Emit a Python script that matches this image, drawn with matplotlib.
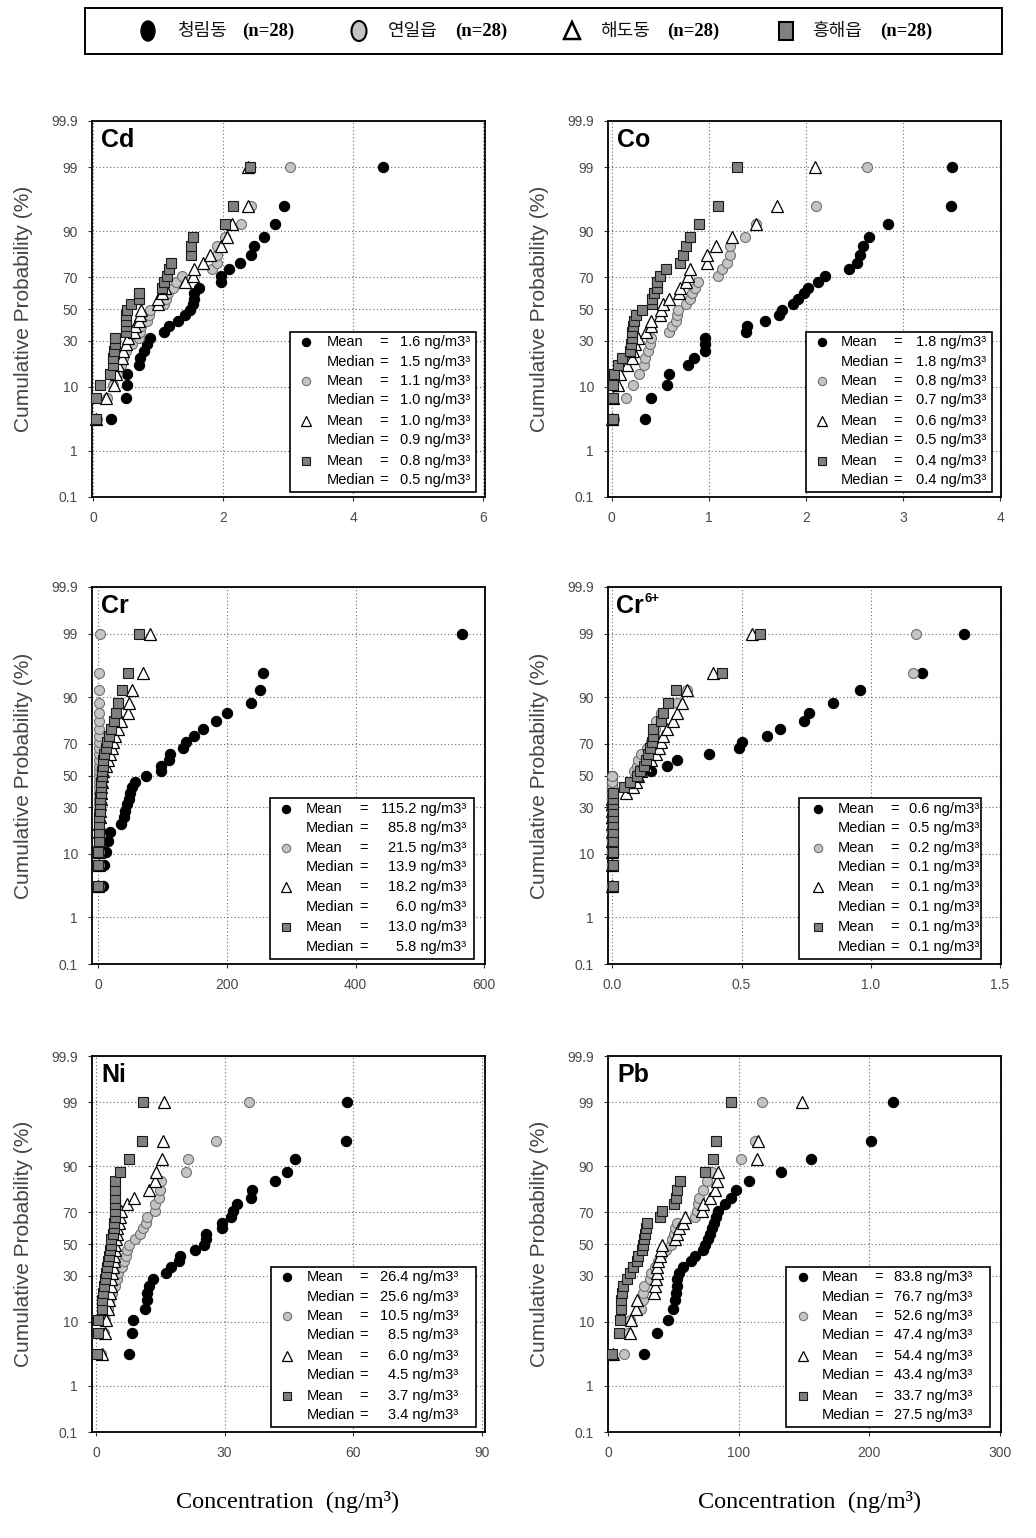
import math
import numpy as np
import matplotlib
matplotlib.use("Agg")
import matplotlib.pyplot as plt
from matplotlib.patches import Rectangle, Ellipse, Polygon

plt.rcParams['font.family'] = ['Liberation Sans', 'DejaVu Sans']

# ---------------- data ----------------
sites = ['청림동', '연일읍', '해도동', '흥해읍']
site_n = ['(n=28)', '(n=28)', '(n=28)', '(n=28)']

# cumulative probability (%) of ranked samples (same for every series, n=28)
cum_prob = [3.5, 7.1, 10.6, 14.1, 17.7, 21.2, 24.7, 28.3, 31.8, 35.3, 38.9, 42.4, 45.9, 49.5,
            53.0, 56.5, 60.1, 63.6, 67.1, 70.7, 74.2, 77.7, 81.3, 84.8, 88.3, 91.9, 95.4, 99.0]

cd_cheongrim = [0.27, 0.50, 0.52, 0.52, 0.71, 0.72, 0.78, 0.83, 0.87, 1.08, 1.17, 1.30, 1.41, 1.48,
                1.54, 1.55, 1.55, 1.63, 1.96, 1.97, 2.09, 2.25, 2.43, 2.47, 2.62, 2.80, 2.94, 4.46]
cd_yeonil = [0.05, 0.21, 0.30, 0.36, 0.42, 0.46, 0.50, 0.60, 0.71, 0.72, 0.74, 0.83, 0.85, 0.87,
             1.08, 1.12, 1.15, 1.22, 1.27, 1.37, 1.83, 1.90, 1.91, 1.91, 2.03, 2.27, 2.42, 3.03]
cd_haedo = [0.04, 0.20, 0.32, 0.35, 0.38, 0.44, 0.46, 0.50, 0.54, 0.62, 0.64, 0.70, 0.72, 0.73,
            1.00, 1.00, 1.05, 1.10, 1.41, 1.53, 1.55, 1.69, 1.79, 1.97, 2.05, 2.14, 2.38, 2.38]
cd_heunghae = [0.04, 0.04, 0.11, 0.25, 0.30, 0.31, 0.32, 0.33, 0.33, 0.50, 0.50, 0.51, 0.51, 0.52,
               0.58, 0.70, 0.70, 1.05, 1.09, 1.14, 1.17, 1.20, 1.51, 1.51, 1.53, 2.02, 2.15, 2.41]

co_cheongrim = [0.34, 0.41, 0.57, 0.59, 0.79, 0.85, 0.96, 0.96, 0.96, 1.38, 1.39, 1.58, 1.72, 1.75,
                1.87, 1.92, 1.98, 2.02, 2.13, 2.20, 2.44, 2.53, 2.56, 2.59, 2.65, 2.85, 3.50, 3.51]
co_yeonil = [0.02, 0.15, 0.22, 0.28, 0.33, 0.34, 0.37, 0.39, 0.41, 0.59, 0.62, 0.66, 0.67, 0.68,
             0.77, 0.81, 0.83, 0.86, 0.89, 1.10, 1.14, 1.19, 1.22, 1.22, 1.37, 1.49, 2.10, 2.63]
co_haedo = [0.00, 0.01, 0.06, 0.09, 0.16, 0.21, 0.22, 0.24, 0.27, 0.35, 0.40, 0.41, 0.50, 0.51,
            0.53, 0.59, 0.69, 0.70, 0.77, 0.79, 0.81, 0.98, 0.98, 1.07, 1.24, 1.49, 1.70, 2.09]
co_heunghae = [0.01, 0.01, 0.01, 0.02, 0.07, 0.11, 0.19, 0.20, 0.21, 0.21, 0.22, 0.23, 0.25, 0.31,
               0.42, 0.42, 0.44, 0.47, 0.47, 0.50, 0.56, 0.70, 0.73, 0.77, 0.81, 0.90, 1.09, 1.29]

cr_cheongrim = [7.8, 9.3, 11.4, 15.5, 18.0, 36.0, 40.0, 42.0, 44.0, 47.0, 50.0, 53.0, 57.0, 73.6,
                97.0, 98.0, 110.0, 112.0, 132.0, 137.0, 149.0, 163.0, 183.0, 200.0, 237.0, 251.0, 256.0, 566.0]
cr_yeonil = [0.5, 0.6, 0.7, 0.8, 0.9, 1.0, 1.0, 1.1, 1.1, 1.2, 1.2, 1.3, 1.3, 1.4,
             1.4, 1.5, 1.5, 1.5, 1.6, 1.6, 1.6, 1.7, 1.7, 1.7, 1.8, 1.8, 1.8, 2.0]
cr_haedo = [0.2, 0.4, 0.6, 0.8, 1.0, 1.5, 2.0, 2.5, 3.0, 3.5, 4.0, 4.5, 5.0, 5.5,
            8.0, 12.0, 15.5, 18.0, 20.7, 23.3, 26.0, 30.0, 36.0, 46.6, 48.0, 52.0, 70.0, 80.0]
cr_heunghae = [0.0, 0.0, 0.0, 0.5, 1.0, 1.0, 1.5, 2.6, 2.8, 3.1, 3.6, 4.2, 4.7, 5.2,
               5.7, 6.7, 7.8, 9.3, 11.4, 14.0, 16.6, 19.0, 24.4, 27.5, 31.0, 37.3, 45.6, 63.7]

cr6_cheongrim = [0.0, 0.0, 0.0, 0.0, 0.0, 0.0, 0.0, 0.0, 0.0, 0.0, 0.0, 0.0, 0.0, 0.0,
                 0.15, 0.21, 0.25, 0.375, 0.49, 0.50, 0.60, 0.65, 0.74, 0.76, 0.855, 0.96, 1.20, 1.36]
cr6_yeonil = [0.0, 0.0, 0.0, 0.0, 0.0, 0.0, 0.0, 0.0, 0.0, 0.0, 0.0, 0.0, 0.0, 0.0,
              0.085, 0.095, 0.10, 0.113, 0.135, 0.15, 0.16, 0.165, 0.17, 0.19, 0.25, 0.29, 1.165, 1.175]
cr6_haedo = [0.0, 0.0, 0.0, 0.0, 0.0, 0.0, 0.0, 0.0, 0.0, 0.0, 0.053, 0.08, 0.09, 0.10,
             0.11, 0.13, 0.15, 0.17, 0.18, 0.19, 0.195, 0.21, 0.236, 0.25, 0.27, 0.29, 0.39, 0.54]
cr6_heunghae = [0.003, 0.003, 0.003, 0.003, 0.003, 0.003, 0.003, 0.003, 0.003, 0.003, 0.003, 0.045, 0.07, 0.094,
                0.107, 0.124, 0.13, 0.137, 0.146, 0.152, 0.156, 0.159, 0.187, 0.195, 0.214, 0.245, 0.423, 0.571]

ni_cheongrim = [7.8, 8.5, 8.7, 11.4, 11.8, 12.0, 12.4, 13.2, 16.3, 17.4, 19.4, 19.6, 23.1, 25.3,
                25.6, 25.7, 29.3, 29.5, 31.6, 32.0, 32.8, 36.1, 36.3, 41.8, 44.6, 46.4, 58.3, 58.5]
ni_yeonil = [1.2, 1.8, 2.0, 2.9, 3.1, 3.8, 4.4, 5.0, 5.2, 6.0, 6.6, 6.9, 7.3, 7.8,
             9.1, 10.3, 11.0, 11.7, 12.0, 13.8, 13.8, 14.8, 14.9, 15.1, 21.0, 21.5, 28.1, 35.7]
ni_haedo = [1.5, 2.1, 2.3, 2.9, 3.0, 3.2, 3.4, 3.6, 3.8, 4.0, 4.2, 4.3, 4.4, 4.5,
            4.6, 4.8, 5.0, 5.3, 5.5, 5.8, 7.3, 8.9, 12.4, 13.8, 14.0, 15.3, 15.7, 15.9]
ni_heunghae = [0.2, 0.4, 0.5, 1.3, 1.5, 1.7, 1.9, 2.1, 2.3, 2.5, 2.9, 3.1, 3.3, 3.4,
               3.5, 4.0, 4.2, 4.2, 4.4, 4.4, 4.5, 4.5, 4.5, 4.5, 5.6, 7.8, 10.7, 10.9]

pb_cheongrim = [27.6, 37.5, 45.4, 49.3, 51.0, 51.6, 52.3, 52.8, 54.4, 57.4, 63.3, 66.4, 72.2, 74.0,
                76.6, 77.9, 79.1, 80.9, 82.2, 83.7, 89.4, 94.0, 97.5, 108.0, 132.0, 155.0, 201.0, 218.0]
pb_yeonil = [12.3, 15.0, 17.0, 25.0, 26.3, 26.8, 27.0, 31.9, 33.0, 36.0, 38.0, 40.0, 44.0, 47.7,
             48.5, 50.0, 51.0, 52.3, 66.6, 68.0, 69.0, 69.7, 72.8, 75.3, 79.1, 102.0, 112.0, 118.0]
pb_haedo = [3.8, 16.6, 17.1, 21.2, 22.0, 35.0, 35.7, 36.5, 37.0, 37.5, 38.3, 39.6, 40.0, 40.8,
            51.0, 52.3, 54.4, 57.0, 58.7, 72.0, 72.8, 77.9, 81.7, 83.0, 84.2, 114.0, 115.0, 148.0]
pb_heunghae = [2.6, 8.2, 8.9, 9.4, 9.7, 10.7, 11.5, 14.6, 16.6, 18.6, 21.7, 22.5, 26.0, 26.8,
               27.6, 28.1, 28.8, 29.9, 39.6, 40.8, 50.5, 51.6, 52.3, 54.9, 74.0, 79.9, 82.5, 94.0]

cd_mean, cd_median = [1.6, 1.1, 1.0, 0.8], [1.5, 1.0, 0.9, 0.5]
co_mean, co_median = [1.8, 0.8, 0.6, 0.4], [1.8, 0.7, 0.5, 0.4]
cr_mean, cr_median = [115.2, 21.5, 18.2, 13.0], [85.8, 13.9, 6.0, 5.8]
cr6_mean, cr6_median = [0.6, 0.2, 0.1, 0.1], [0.5, 0.1, 0.1, 0.1]
ni_mean, ni_median = [26.4, 10.5, 6.0, 3.7], [25.6, 8.5, 4.5, 3.4]
pb_mean, pb_median = [83.8, 52.6, 54.4, 33.7], [76.7, 47.4, 43.4, 27.5]

prob_ticks = [0.1, 1, 10, 30, 50, 70, 90, 99, 99.9]
prob_labels = ['0.1', '1', '10', '30', '50', '70', '90', '99', '99.9']


# ---------------- normal probability scale ----------------
def _ppf_percent(p):
    p = np.asarray(p, dtype=float)
    shape = p.shape
    q0 = np.clip(np.atleast_1d(p).ravel() / 100.0, 1e-12, 1 - 1e-12)
    a = [-3.969683028665376e+01, 2.209460984245205e+02, -2.759285104469687e+02,
         1.383577518672690e+02, -3.066479806614716e+01, 2.506628277459239e+00]
    b = [-5.447609879822406e+01, 1.615858368580409e+02, -1.556989798598866e+02,
         6.680131188771972e+01, -1.328068155288572e+01]
    c = [-7.784894002430293e-03, -3.223964580411365e-01, -2.400758277161838e+00,
         -2.549671029964288e+00, 4.374664141464968e+00, 2.938163982698783e+00]
    d = [7.784695709041462e-03, 3.224671290700398e-01, 2.445134137142996e+00,
         3.754408661907416e+00]
    plow = 0.02425
    z = np.empty_like(q0)
    lo = q0 < plow
    hi = q0 > 1 - plow
    mid = ~(lo | hi)
    q = np.sqrt(-2 * np.log(q0[lo]))
    z[lo] = (((((c[0]*q+c[1])*q+c[2])*q+c[3])*q+c[4])*q+c[5]) / ((((d[0]*q+d[1])*q+d[2])*q+d[3])*q+1)
    q = np.sqrt(-2 * np.log(1 - q0[hi]))
    z[hi] = -(((((c[0]*q+c[1])*q+c[2])*q+c[3])*q+c[4])*q+c[5]) / ((((d[0]*q+d[1])*q+d[2])*q+d[3])*q+1)
    q = q0[mid] - 0.5
    r = q * q
    z[mid] = (((((a[0]*r+a[1])*r+a[2])*r+a[3])*r+a[4])*r+a[5])*q / (((((b[0]*r+b[1])*r+b[2])*r+b[3])*r+b[4])*r+1)
    return z.reshape(shape)


_erf = np.vectorize(math.erf, otypes=[float])


def _cdf_percent(z):
    z = np.asarray(z, dtype=float)
    return 50.0 * (1.0 + _erf(z / math.sqrt(2.0)))


# ---------------- figure ----------------
fig = plt.figure(figsize=(10.36, 15.38), dpi=100)
W, H = 1036.0, 1538.0

col_left = [92 / W, 608 / W]
ax_w = 393 / W
row_box = [(121, 497), (587, 964), (1056, 1432)]

series_style = [
    dict(marker='o', ms=7.4, mfc='black', mec='black', mew=0.8),
    dict(marker='o', ms=7.2, mfc='#c4c4c4', mec='#707070', mew=0.8),
    dict(marker='^', ms=8.2, mfc='white', mec='black', mew=0.9),
    dict(marker='s', ms=6.8, mfc='#808080', mec='#1a1a1a', mew=0.8),
]

panels = [
    dict(name='Cd', data=[cd_cheongrim, cd_yeonil, cd_haedo, cd_heunghae], mean=cd_mean, median=cd_median,
         xticks=[0, 2, 4, 6], xlim=(-0.02, 6.026), fmt='{:g}', cell=(0, 0),
         leg=(0.504, 0.977, 0.544, 0.597, 0.741, 0.962)),
    dict(name='Co', data=[co_cheongrim, co_yeonil, co_haedo, co_heunghae], mean=co_mean, median=co_median,
         xticks=[0, 1, 2, 3, 4], xlim=(-0.038, 4.01), fmt='{:g}', cell=(0, 1),
         leg=(0.504, 0.978, 0.544, 0.593, 0.737, 0.962)),
    dict(name='Cr', data=[cr_cheongrim, cr_yeonil, cr_haedo, cr_heunghae], mean=cr_mean, median=cr_median,
         xticks=[0, 200, 400, 600], xlim=(-9.8, 601), fmt='{:g}', cell=(1, 0),
         leg=(0.454, 0.973, 0.494, 0.545, 0.690, 0.952)),
    dict(name='Cr6', data=[cr6_cheongrim, cr6_yeonil, cr6_haedo, cr6_heunghae], mean=cr6_mean, median=cr6_median,
         xticks=[0.0, 0.5, 1.0, 1.5], xlim=(-0.0166, 1.504), fmt='{:.1f}', cell=(1, 1),
         leg=(0.486, 0.949, 0.534, 0.585, 0.729, 0.944)),
    dict(name='Ni', data=[ni_cheongrim, ni_yeonil, ni_haedo, ni_heunghae], mean=ni_mean, median=ni_median,
         xticks=[0, 30, 60, 90], xlim=(-0.93, 90.77), fmt='{:g}', cell=(2, 0),
         leg=(0.455, 0.977, 0.496, 0.547, 0.692, 0.932)),
    dict(name='Pb', data=[pb_cheongrim, pb_yeonil, pb_haedo, pb_heunghae], mean=pb_mean, median=pb_median,
         xticks=[0, 100, 200, 300], xlim=(-0.23, 300.8), fmt='{:g}', cell=(2, 1),
         leg=(0.453, 0.972, 0.495, 0.545, 0.689, 0.927)),
]

leg_rows = [0.411, 0.360, 0.308, 0.257, 0.203, 0.151, 0.097, 0.046]
leg_marker = [
    dict(marker='o', ms=6.0, mfc='black', mec='black', mew=0.8),
    dict(marker='o', ms=6.0, mfc='#c4c4c4', mec='#707070', mew=0.8),
    dict(marker='^', ms=7.0, mfc='white', mec='black', mew=0.9),
    dict(marker='s', ms=6.0, mfc='#808080', mec='#1a1a1a', mew=0.8),
]
tick_color = '#4a4a4a'

for p in panels:
    r, c = p['cell']
    top, bot = row_box[r]
    ax = fig.add_axes([col_left[c], 1 - bot / H, ax_w, (bot - top) / H])
    ax.set_yscale('function', functions=(_ppf_percent, _cdf_percent))
    ax.set_ylim(0.1, 99.9)
    ax.set_xlim(*p['xlim'])
    ax.set_yticks(prob_ticks)
    ax.set_yticklabels(prob_labels)
    ax.set_xticks(p['xticks'])
    ax.set_xticklabels([p['fmt'].format(v) for v in p['xticks']])
    ax.minorticks_off()
    ax.tick_params(axis='both', direction='out', length=3, width=0.8, pad=7,
                   labelsize=10, labelcolor=tick_color, color='#333333')
    for s in ax.spines.values():
        s.set_linewidth(1.3)
        s.set_color('black')
    ax.grid(True, which='major', linestyle=(0, (1, 2.2)), color='#6a6a6a', linewidth=0.8)
    ax.set_axisbelow(True)

    for vals, st in zip(p['data'], series_style):
        ax.plot(vals, cum_prob, linestyle='none', zorder=3, clip_on=False, **st)

    # panel label
    if p['name'] == 'Cr6':
        t = ax.text(0.021, 0.982, 'Cr', transform=ax.transAxes, ha='left', va='top',
                    fontsize=18, fontweight='bold', zorder=6)
        ax.annotate('6+', xy=(1.0, 1.05), xycoords=t, ha='left', va='top',
                    fontsize=9.5, fontweight='bold', zorder=6)
    else:
        ax.text(0.023, 0.982, p['name'], transform=ax.transAxes, ha='left', va='top',
                fontsize=18, fontweight='bold', zorder=6)

    # stats box
    x0, x1, xm, xl, xe, xv = p['leg']
    ax.add_patch(Rectangle((x0, 0.013), x1 - x0, 0.427, transform=ax.transAxes,
                           facecolor='white', edgecolor='black', linewidth=1.2, zorder=5))
    for i in range(4):
        ym = leg_rows[2 * i]
        yd = leg_rows[2 * i + 1]
        ax.plot([xm], [ym], transform=ax.transAxes, linestyle='none', zorder=7,
                clip_on=False, **leg_marker[i])
        ax.text(xl, ym, 'Mean', transform=ax.transAxes, ha='left', va='center', fontsize=10.5, zorder=7)
        ax.text(xl, yd, 'Median', transform=ax.transAxes, ha='left', va='center', fontsize=10.5, zorder=7)
        ax.text(xe, ym, '=', transform=ax.transAxes, ha='center', va='center', fontsize=10.5, zorder=7)
        ax.text(xe, yd, '=', transform=ax.transAxes, ha='center', va='center', fontsize=10.5, zorder=7)
        ax.text(xv, ym, '{:.1f} ng/m3\u00b3'.format(p['mean'][i]), transform=ax.transAxes,
                ha='right', va='center', fontsize=10.5, zorder=7)
        ax.text(xv, yd, '{:.1f} ng/m3\u00b3'.format(p['median'][i]), transform=ax.transAxes,
                ha='right', va='center', fontsize=10.5, zorder=7)

    ax.set_ylabel('Cumulative Probability (%)', fontsize=15, color='#444444')
    ax.yaxis.set_label_coords(-0.15, 0.5)

# x labels
for xc in [288 / W, 810 / W]:
    fig.text(xc, 1 - 1502 / H, 'Concentration  (ng/m\u00b3)', ha='center', va='center',
             fontsize=17.5, family=['Liberation Serif', 'DejaVu Serif'])

# top legend
fig.patches.append(Rectangle((85 / W, 1 - 54 / H), (1002 - 85) / W, 46 / H, transform=fig.transFigure,
                             facecolor='white', edgecolor='black', linewidth=1.4, figure=fig))
yl = 1 - 31 / H
mk_x = [148, 359, 572, 786]
txt_x = [177, 388, 600, 812]
n_x = [242, 455, 667, 880]
fig.patches.append(Ellipse((mk_x[0] / W, yl), 14 / W, 20 / H, transform=fig.transFigure,
                           facecolor='black', edgecolor='black', linewidth=1.0, figure=fig))
fig.patches.append(Ellipse((mk_x[1] / W, yl), 15 / W, 20 / H, transform=fig.transFigure,
                           facecolor='#c4c4c4', edgecolor='black', linewidth=1.5, figure=fig))
fig.patches.append(Polygon([((mk_x[2] - 8) / W, yl - 8 / H), ((mk_x[2] + 8) / W, yl - 8 / H),
                            (mk_x[2] / W, yl + 9 / H)], closed=True, transform=fig.transFigure,
                           facecolor='white', edgecolor='black', linewidth=1.8, figure=fig))
fig.patches.append(Rectangle(((mk_x[3] - 7) / W, yl - 9 / H), 14 / W, 18 / H, transform=fig.transFigure,
                             facecolor='#808080', edgecolor='black', linewidth=1.5, figure=fig))
for i in range(4):
    fig.text(txt_x[i] / W, yl, sites[i], ha='left', va='center', fontsize=13,
             family=['Noto Sans CJK KR', 'DejaVu Sans'], color='#111111')
    fig.text(n_x[i] / W, yl, site_n[i], ha='left', va='center', fontsize=13.5, fontweight='bold',
             family=['Liberation Serif', 'DejaVu Serif'])

fig.savefig('out.png', dpi=100)
